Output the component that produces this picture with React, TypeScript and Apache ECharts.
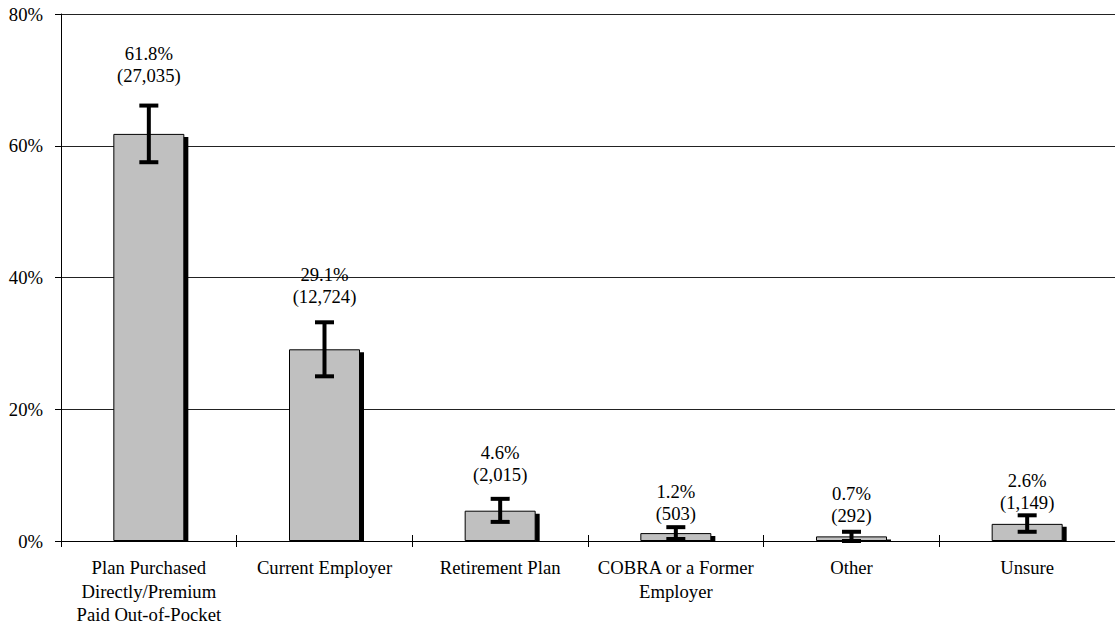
import React, { useEffect, useRef } from "react";
import * as echarts from "echarts";

const categories = [
  "Plan Purchased\nDirectly/Premium\nPaid Out-of-Pocket",
  "Current Employer",
  "Retirement Plan",
  "COBRA or a Former\nEmployer",
  "Other",
  "Unsure",
];
const percentages = [61.8, 29.1, 4.6, 1.2, 0.7, 2.6];
const counts = ["27,035", "12,724", "2,015", "503", "292", "1,149"];
const errorLow = [57.5, 25.0, 2.9, 0.3, 0.0, 1.4];
const errorHigh = [66.1, 33.2, 6.4, 2.1, 1.4, 3.9];
const yTicks = [0, 20, 40, 60, 80];

const labelDistance = [47, 42, 25, 9, 10, 10];

const FONT = "'Liberation Serif', 'Times New Roman', serif";
const FS = 18.67;
const BAR_W = 71;

export default function App() {
  const ref = useRef<HTMLDivElement>(null);
  useEffect(() => {
    if (!ref.current) return;
    const chart = echarts.init(ref.current, null, { renderer: "svg" });
    const option: any = {
      animation: false,
      backgroundColor: "#fff",
      grid: { left: 61, right: 0, top: 14, bottom: 88 },
      xAxis: [
        {
          type: "category",
          data: categories,
          axisLine: { lineStyle: { color: "#000", width: 1 } },
          axisTick: { show: true, length: 6, lineStyle: { color: "#000" } },
          axisLabel: {
            color: "#000",
            fontFamily: FONT,
            fontSize: FS,
            lineHeight: 23.5,
            margin: 15,
            interval: 0,
          },
          z: 5,
        },
        {
          type: "category",
          data: categories,
          position: "bottom",
          axisLine: { show: false },
          axisTick: { show: true, inside: true, length: 6, lineStyle: { color: "#000" } },
          axisLabel: { show: false },
          z: 5,
        },
      ],
      yAxis: {
        type: "value",
        min: yTicks[0],
        max: yTicks[yTicks.length - 1],
        interval: 20,
        axisLine: { show: true, lineStyle: { color: "#000", width: 1 } },
        axisTick: { show: true, length: 6, lineStyle: { color: "#000" } },
        axisLabel: {
          color: "#000",
          fontFamily: FONT,
          fontSize: FS,
          margin: 18,
          formatter: "{value}%",
        },
        splitLine: { show: true, lineStyle: { color: "#222", width: 1 } },
      },
      series: [
        {
          type: "custom",
          z: 2,
          data: percentages.map((v, i) => [i, v]),
          encode: { x: 0, y: 1 },
          renderItem: (params: any, api: any) => {
            const top = api.coord([api.value(0), api.value(1)]);
            const base = api.coord([api.value(0), 0]);
            const h = Math.max(0, base[1] - top[1] - 2);
            return {
              type: "rect",
              shape: { x: top[0] - BAR_W / 2 + 4, y: top[1] + 3, width: BAR_W, height: h },
              style: { fill: "#000" },
            };
          },
        },
        {
          type: "bar",
          z: 3,
          barWidth: BAR_W,
          data: percentages.map((v, i) => ({
            value: v,
            label: { distance: labelDistance[i] },
          })),
          itemStyle: { color: "#c0c0c0", borderColor: "#000", borderWidth: 1 },
          label: {
            show: true,
            position: "top",
            color: "#000",
            fontFamily: FONT,
            fontSize: FS,
            lineHeight: 22,
            align: "center",
            formatter: (p: any) => `${percentages[p.dataIndex].toFixed(1)}%\n(${counts[p.dataIndex]})`,
          },
        },
        {
          type: "custom",
          z: 4,
          data: percentages.map((_, i) => [i, errorLow[i], errorHigh[i]]),
          encode: { x: 0, y: [1, 2] },
          renderItem: (params: any, api: any) => {
            const lo = api.coord([api.value(0), api.value(1)]);
            const hi = api.coord([api.value(0), api.value(2)]);
            const cx = lo[0];
            const hw = 9.5;
            const st = { stroke: "#000", lineWidth: 4 };
            return {
              type: "group",
              children: [
                { type: "line", shape: { x1: cx, y1: lo[1], x2: cx, y2: hi[1] }, style: st },
                { type: "line", shape: { x1: cx - hw, y1: hi[1], x2: cx + hw, y2: hi[1] }, style: st },
                { type: "line", shape: { x1: cx - hw, y1: lo[1], x2: cx + hw, y2: lo[1] }, style: st },
              ],
            };
          },
        },
      ],
    };
    chart.setOption(option);
    return () => chart.dispose();
  }, []);
  return (
    <div
      ref={ref}
      style={{ position: "fixed", left: 0, top: 0, width: 1115, height: 629 }}
    />
  );
}
